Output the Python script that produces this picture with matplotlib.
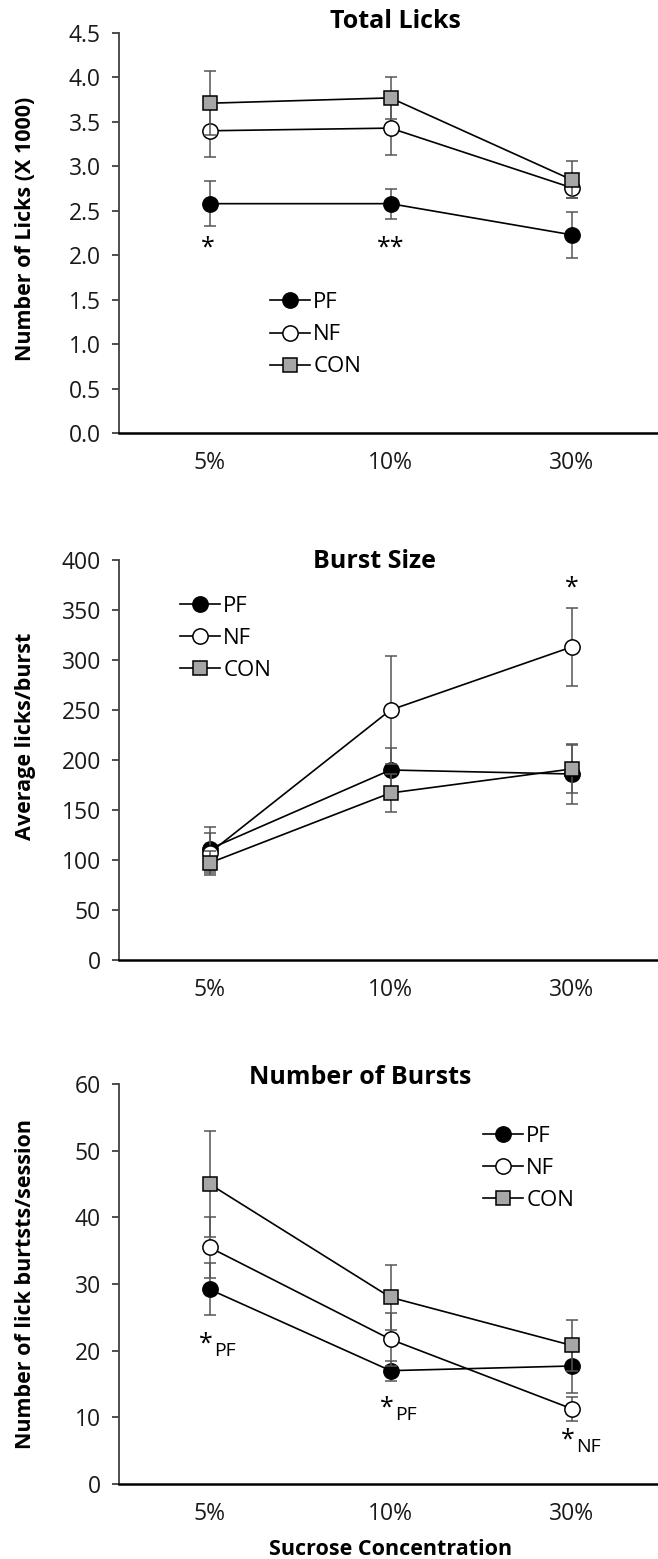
import numpy as np
import matplotlib
matplotlib.use("Agg")
import matplotlib.pyplot as plt

plt.rcParams['font.family'] = ['Open Sans', 'DejaVu Sans']

# categories
conc = ['5%', '10%', '30%']
groups = ['PF', 'NF', 'CON']

# Total licks (x 1000)
licks_pf = [2.58, 2.58, 2.23]
licks_pf_err = [0.25, 0.17, 0.26]
licks_nf = [3.40, 3.43, 2.76]
licks_nf_err = [0.30, 0.30, 0.12]
licks_con = [3.71, 3.77, 2.85]
licks_con_err = [0.36, 0.24, 0.21]

# Burst size (licks/burst)
burst_pf = [111, 190, 186]
burst_pf_err = [22, 22, 30]
burst_nf = [107, 250, 313]
burst_nf_err = [20, 54, 39]
burst_con = [97, 167, 191]
burst_con_err = [12, 19, 24]

# Number of bursts per session
nb_pf = [29.2, 17.0, 17.7]
nb_pf_err = [3.9, 1.5, 4.0]
nb_nf = [35.5, 21.7, 11.3]
nb_nf_err = [4.6, 4.0, 1.8]
nb_con = [45.0, 28.0, 20.8]
nb_con_err = [7.9, 4.9, 3.8]

styles = {
    'PF': dict(marker='o', mfc='black', ms=11),
    'NF': dict(marker='o', mfc='white', ms=11),
    'CON': dict(marker='s', mfc='#a6a6a6', ms=10),
}

fig = plt.figure(figsize=(6.58, 15.59), dpi=100)
left, width = 119 / 658, 543 / 658
ax1 = fig.add_axes([left, 1 - 433 / 1559, width, 400 / 1559])
ax2 = fig.add_axes([left, 1 - 960 / 1559, width, 400 / 1559])
ax3 = fig.add_axes([left, 1 - 1484 / 1559, width, 400 / 1559])

x = np.arange(len(conc))


def draw_panel(ax, series, ylim, yticks, fmt, title, title_x, title_y,
               ylabel, ylabel_y, leg_anchor):
    z = 3
    for name, (vals, errs) in zip(groups, series):
        st = styles[name]
        ax.errorbar(x, vals, yerr=errs, fmt='none', ecolor='#555555',
                    elinewidth=1.1, capsize=4, capthick=1.1, zorder=z)
        ax.plot(x, vals, color='black', lw=1.2, marker=st['marker'],
                ms=st['ms'], mfc=st['mfc'], mec='black', mew=1.1,
                label=name, zorder=z + 0.5)
        z += 1
    ax.set_xlim(-0.5, 2.5)
    ax.set_ylim(*ylim)
    ax.set_yticks(yticks)
    ax.set_yticklabels([fmt.format(t) for t in yticks])
    ax.set_xticks(x)
    ax.set_xticklabels(conc)
    for s in ['top', 'right']:
        ax.spines[s].set_visible(False)
    ax.spines['left'].set_color('#404040')
    ax.spines['left'].set_linewidth(1.3)
    ax.spines['bottom'].set_color('black')
    ax.spines['bottom'].set_linewidth(1.8)
    ax.tick_params(axis='y', direction='out', length=5, width=1.3,
                   color='#404040', labelsize=16.5, pad=8, labelcolor='#1a1a1a')
    ax.tick_params(axis='x', length=0, labelsize=16.5, pad=13,
                   labelcolor='#1a1a1a')
    ax.text(title_x, title_y, title, transform=ax.transAxes, ha='center',
            va='center', fontsize=18, fontweight='bold')
    ax.set_ylabel(ylabel, fontsize=15.5, fontweight='bold')
    ax.yaxis.set_label_coords(-0.153, ylabel_y)
    ax.legend(loc='upper left', bbox_to_anchor=leg_anchor, frameon=False,
              fontsize=16, handlelength=1.8, handletextpad=0.15,
              labelspacing=0.5, borderpad=0, borderaxespad=0, numpoints=1)


draw_panel(ax1, [(licks_pf, licks_pf_err), (licks_nf, licks_nf_err),
                 (licks_con, licks_con_err)],
           (0, 4.5), np.arange(0, 4.51, 0.5), '{:.1f}', 'Total Licks',
           0.51, 1.028, 'Number of Licks (X 1000)', 0.51, (0.278, 0.352))
draw_panel(ax2, [(burst_pf, burst_pf_err), (burst_nf, burst_nf_err),
                 (burst_con, burst_con_err)],
           (0, 400), np.arange(0, 401, 50), '{:.0f}', 'Burst Size',
           0.47, 0.997, 'Average licks/burst', 0.56, (0.112, 0.91))
draw_panel(ax3, [(nb_pf, nb_pf_err), (nb_nf, nb_nf_err),
                 (nb_con, nb_con_err)],
           (0, 60), np.arange(0, 61, 10), '{:.0f}', 'Number of Bursts',
           0.444, 1.0175, 'Number of lick burtsts/session', 0.5, (0.67, 0.895))

ax3.set_xlabel('Sucrose Concentration', fontsize=15.5, fontweight='bold',
               labelpad=9)

# significance marks
star_kw = dict(ha='center', va='center', fontsize=18, textcoords='offset points')
ax1.annotate('*', xy=(0, 2.08), xytext=(-1, 0), **star_kw)
ax1.annotate('**', xy=(1, 2.08), xytext=(0, 0), **star_kw)
ax2.annotate('*', xy=(2, 372), xytext=(0, 0), **star_kw)

sig3 = [(0, 21.0, 'PF'), (1, 11.4, 'PF'), (2, 6.6, 'NF')]
for xi, yv, lab in sig3:
    ax3.annotate('*', xy=(xi, yv), xytext=(-3, 0), **star_kw)
    ax3.annotate(lab, xy=(xi, yv), xytext=(3, -5), textcoords='offset points',
                 ha='left', va='center', fontsize=14)

fig.savefig('out.png', dpi=100, facecolor='white')
